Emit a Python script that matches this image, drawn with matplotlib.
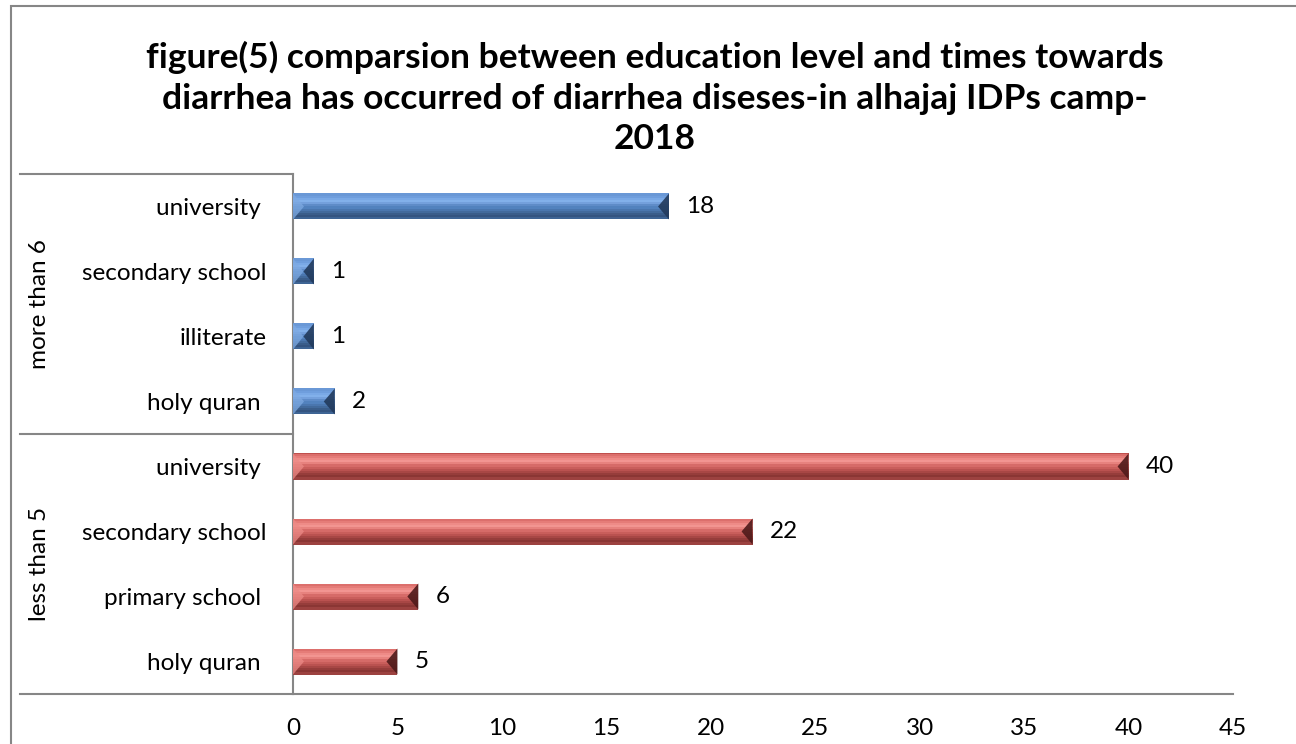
import matplotlib
matplotlib.use("Agg")
import matplotlib.pyplot as plt
from matplotlib.lines import Line2D
from matplotlib.patches import Rectangle
import matplotlib.transforms as mtransforms

# ---------------- data ----------------
categories = ["holy quran ", "primary school ", "secondary school", "university ",
              "holy quran ", "illiterate", "secondary school", "university "]
groups = ["less than 5", "less than 5", "less than 5", "less than 5",
          "more than 6", "more than 6", "more than 6", "more than 6"]
values = [5, 6, 22, 40, 2, 1, 1, 18]
group_names = ["less than 5", "more than 6"]
xticks = [0, 5, 10, 15, 20, 25, 30, 35, 40, 45]
title = ("figure(5) comparsion between education level and times towards\n"
         "diarrhea has occurred of diarrhea diseses-in alhajaj IDPs camp-\n2018")

palette = {
    "more than 6": dict(base="#4F81BD",
                        grad=["#6A98D6", "#6F9EDD", "#7AA9E6", "#82B0EA", "#74A0DC",
                              "#5F8CC8", "#5282BE", "#4A76AE", "#426A9C", "#3A5D8A",
                              "#345480", "#3E6494"],
                        left="#7EAAE2", right="#223A5C"),
    "less than 5": dict(base="#C0504D",
                        grad=["#DC6F6C", "#E57C78", "#EE8B87", "#F29591", "#E7827E",
                              "#D66B68", "#C95E5B", "#BA5250", "#A84745", "#963D3B",
                              "#8A3634", "#9C4240"],
                        left="#EC8A86", right="#4E1A1A"),
}

W, H, DPI = 1296, 744, 100
fig = plt.figure(figsize=(W / DPI, H / DPI), dpi=DPI)
font = "Lato"
plt.rcParams["font.family"] = [font, "DejaVu Sans"]
fs = 17.5

ax_left, ax_right, ax_top, ax_bottom = 293, 1233, 174, 694
ax = fig.add_axes([ax_left / W, 1 - ax_bottom / H, (ax_right - ax_left) / W,
                   (ax_bottom - ax_top) / H])

ypos = list(range(len(values)))
bar_h = 0.4
colors = [palette[g]["base"] for g in groups]
bars = ax.barh(ypos, values, height=bar_h, color=colors, edgecolor="none", zorder=2)
ax.set_xlim(0, 45)
ax.set_ylim(-0.5, len(values) - 0.5)

# pixel scale for bevel
px_per_x = (ax_right - ax_left) / 45.0
bevel_px = 11
for b, g in zip(bars, groups):
    c = palette[g]
    x0, y0 = b.get_x(), b.get_y()
    w, h = b.get_width(), b.get_height()
    x1, y1 = x0 + w, y0 + h
    ym = y0 + h / 2
    n = len(c["grad"])
    for i, col in enumerate(c["grad"]):
        ya = y1 - h * i / n
        yb = y1 - h * (i + 1) / n
        ax.fill([x0, x1, x1, x0], [ya, ya, yb, yb], color=col, lw=0, zorder=3)
    dx = min(w / 2, bevel_px / px_per_x)
    ax.fill([x0, x0 + dx, x0], [y0, ym, y1], color=c["left"], lw=0, alpha=0.75, zorder=4)
    ax.fill([x1, x1 - dx, x1], [y0, ym, y1], color=c["right"], lw=0, alpha=0.9, zorder=4)
    ax.annotate(f"{w:g}", xy=(x1, ym), xytext=(17, 0), textcoords="offset pixels",
                ha="left", va="center", fontsize=fs, color="#000000")

# axes styling
grey = "#868686"
for s in ["top", "right"]:
    ax.spines[s].set_visible(False)
for s in ["left", "bottom"]:
    ax.spines[s].set_color(grey)
    ax.spines[s].set_linewidth(1.5)
ax.set_xticks(xticks)
ax.set_xticklabels([str(t) for t in xticks], fontsize=fs)
ax.set_yticks(ypos)
ax.set_yticklabels(categories, fontsize=fs)
ax.tick_params(axis="both", length=0, colors="#000000")
ax.tick_params(axis="y", pad=(ax_left - 267) / DPI * 72)
ax.tick_params(axis="x", pad=(718 - ax_bottom) / DPI * 72)

# group separators
left_frac = (20 - ax_left) / (ax_right - ax_left)
trans = mtransforms.blended_transform_factory(ax.transAxes, ax.transData)
n_per = len(values) // len(group_names)
for k in range(len(group_names) + 1):
    yy = -0.5 + k * n_per
    ax.add_line(Line2D([left_frac, 0], [yy, yy], transform=trans, color=grey,
                       lw=1.5, clip_on=False))

# group labels
for k, gname in enumerate(group_names):
    yc = -0.5 + k * n_per + n_per / 2
    ax.text(left_frac + (40 - 20) / (ax_right - ax_left), yc, gname, transform=trans,
            rotation=90, ha="center", va="center", fontsize=fs)

# title
fig.text(655 / W, 1 - 98 / H, title, ha="center", va="center", fontsize=25.5,
         fontweight="bold", linespacing=1.33)

# chart border
fig.add_artist(Rectangle((11 / DPI, -1), 20, 1 + (H - 6) / DPI, transform=fig.dpi_scale_trans,
                         fill=False, edgecolor=grey, lw=1.5))

fig.savefig("out.png", dpi=DPI)
